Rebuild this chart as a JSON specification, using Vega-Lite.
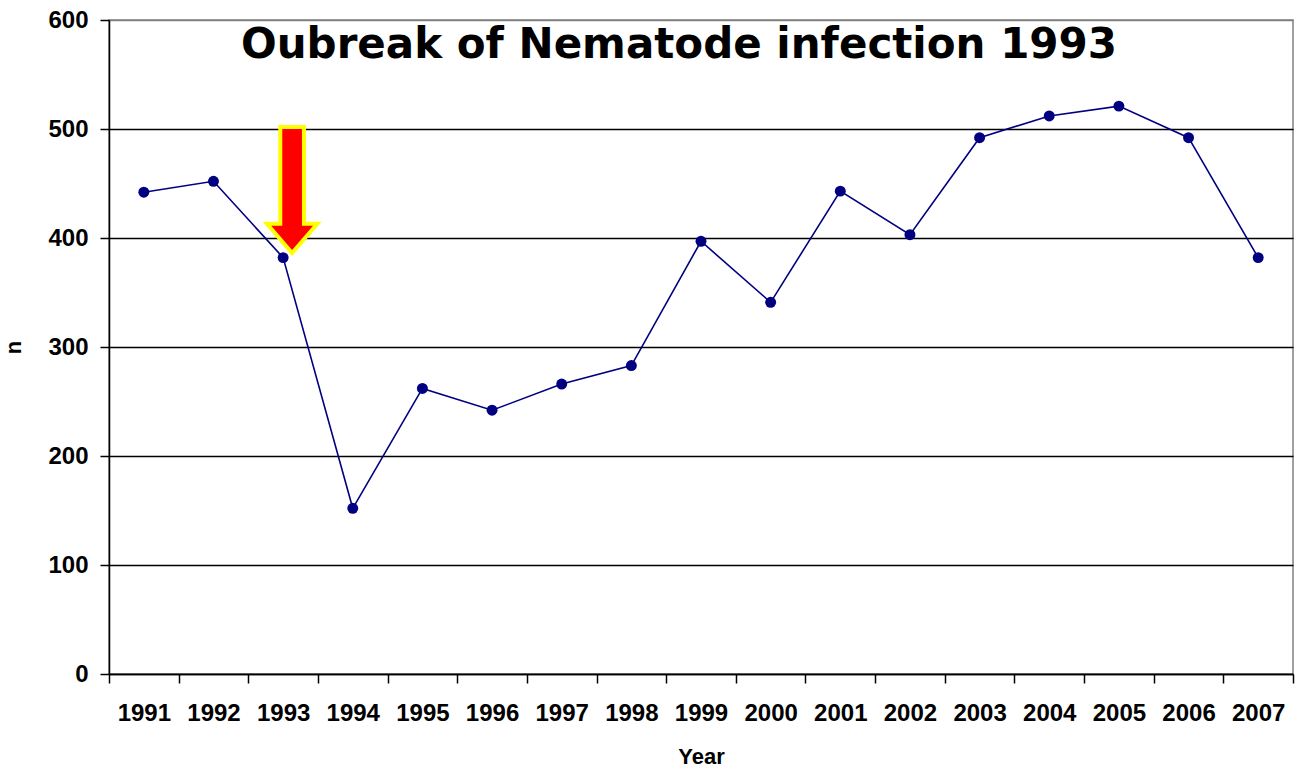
{
  "$schema": "https://vega.github.io/schema/vega-lite/v6.json",
  "width": 1184,
  "height": 654,
  "autosize": "none",
  "padding": {"left": 109, "top": 20, "right": 4, "bottom": 99},
  "background": "white",
  "config": {
    "view": {"stroke": "#808080", "strokeWidth": 1.5},
    "font": "Liberation Sans"
  },
  "title": {
    "text": "Oubreak of Nematode infection 1993",
    "font": "DejaVu Sans",
    "fontSize": 42,
    "fontWeight": "bold",
    "color": "black",
    "anchor": "middle",
    "frame": "group",
    "offset": 0,
    "baseline": "alphabetic",
    "dy": 92,
    "dx": -22
  },
  "datasets": {
    "series": [
      {"Year": "1991", "n": 442},
      {"Year": "1992", "n": 452},
      {"Year": "1993", "n": 382},
      {"Year": "1994", "n": 152},
      {"Year": "1995", "n": 262},
      {"Year": "1996", "n": 242},
      {"Year": "1997", "n": 266},
      {"Year": "1998", "n": 283},
      {"Year": "1999", "n": 397},
      {"Year": "2000", "n": 341},
      {"Year": "2001", "n": 443},
      {"Year": "2002", "n": 403},
      {"Year": "2003", "n": 492},
      {"Year": "2004", "n": 512},
      {"Year": "2005", "n": 521},
      {"Year": "2006", "n": 492},
      {"Year": "2007", "n": 382}
    ],
    "arrow": [
      {"Year": "1993", "n": 444}
    ]
  },
  "encoding": {
    "x": {
      "field": "Year",
      "type": "ordinal",
      "scale": {"paddingInner": 0, "paddingOuter": 0},
      "axis": {
        "title": "Year",
        "titleFontSize": 22,
        "titleFontWeight": "bold",
        "titleColor": "black",
        "titlePadding": 21,
        "labelAngle": 0,
        "labelFontSize": 24,
        "labelFontWeight": "bold",
        "labelColor": "black",
        "labelPadding": 18,
        "tickBand": "extent",
        "tickSize": 9,
        "tickWidth": 1.5,
        "tickColor": "black",
        "domainColor": "black",
        "domainWidth": 1.5,
        "grid": false
      }
    },
    "y": {
      "field": "n",
      "type": "quantitative",
      "scale": {"domain": [0, 600], "nice": false, "zero": true},
      "axis": {
        "title": "n",
        "titleFontSize": 22,
        "titleFontWeight": "bold",
        "titleColor": "black",
        "titlePadding": 22,
        "values": [0, 100, 200, 300, 400, 500, 600],
        "labelFontSize": 24,
        "labelFontWeight": "bold",
        "labelColor": "black",
        "labelPadding": 12,
        "tickSize": 9,
        "tickWidth": 1.5,
        "tickColor": "black",
        "domainColor": "black",
        "domainWidth": 1.5,
        "grid": true,
        "gridColor": {"condition": {"test": "datum.value === 600", "value": "#808080"}, "value": "black"},
        "gridWidth": 1.3,
        "gridOpacity": 1
      }
    }
  },
  "layer": [
    {
      "data": {"name": "series"},
      "mark": {"type": "line", "color": "#000080", "strokeWidth": 1.6}
    },
    {
      "data": {"name": "series"},
      "mark": {"type": "point", "filled": true, "size": 120, "color": "#000080", "opacity": 1}
    },
    {
      "data": {"name": "arrow"},
      "mark": {
        "type": "point",
        "shape": "M-0.188,-1L0.188,-1L0.188,0.535L0.4,0.535L0,1L-0.4,0.535L-0.188,0.535Z",
        "size": 15876,
        "filled": true,
        "fill": "#FF0000",
        "stroke": "#FFFF00",
        "strokeWidth": 4,
        "strokeJoin": "miter",
        "opacity": 1,
        "fillOpacity": 1,
        "strokeOpacity": 1,
        "xOffset": 9
      }
    }
  ]
}
